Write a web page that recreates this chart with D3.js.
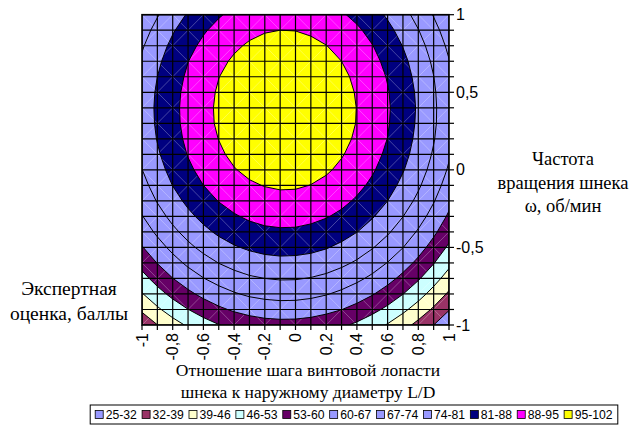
<!DOCTYPE html>
<html>
<head>
<meta charset="utf-8">
<script src="https://cdn.jsdelivr.net/npm/d3@7"></script>
<style>
  body { margin: 0; background: #fff; }
  svg { display: block; }
</style>
</head>
<body>
<svg id="chart" width="633" height="430"></svg>
<script>
// Grid of factor levels (coded units)
const lengthRatio = [-1, -0.9, -0.8, -0.7, -0.6, -0.5, -0.4, -0.3, -0.2, -0.1, 0,
                     0.1, 0.2, 0.3, 0.4, 0.5, 0.6, 0.7, 0.8, 0.9, 1];
const rotationFreq = [1, 0.9, 0.8, 0.7, 0.6, 0.5, 0.4, 0.3, 0.2, 0.1, 0,
                      -0.1, -0.2, -0.3, -0.4, -0.5, -0.6, -0.7, -0.8, -0.9, -1];

// Expert score, one row per rotationFreq level, one column per lengthRatio level
const score = [
  [68.7, 73.5, 77.8, 81.6, 84.8, 87.4, 89.5, 91.0, 92.0, 92.5, 92.4, 91.7, 90.5, 88.7, 86.4, 83.6, 80.1, 76.2, 71.7, 66.6, 61.0],
  [71.2, 76.1, 80.4, 84.1, 87.3, 89.9, 92.0, 93.6, 94.6, 95.0, 94.9, 94.2, 93.0, 91.3, 89.0, 86.1, 82.7, 78.7, 74.2, 69.2, 63.5],
  [73.3, 78.2, 82.5, 86.2, 89.4, 92.0, 94.1, 95.7, 96.7, 97.1, 97.0, 96.3, 95.1, 93.4, 91.1, 88.2, 84.8, 80.8, 76.3, 71.3, 65.6],
  [75.0, 79.8, 84.1, 87.9, 91.0, 93.7, 95.8, 97.3, 98.3, 98.7, 98.6, 98.0, 96.8, 95.0, 92.7, 89.8, 86.4, 82.5, 78.0, 72.9, 67.3],
  [76.2, 81.0, 85.3, 89.0, 92.2, 94.9, 97.0, 98.5, 99.5, 99.9, 99.8, 99.2, 98.0, 96.2, 93.9, 91.0, 87.6, 83.7, 79.1, 74.1, 68.5],
  [76.9, 81.8, 86.0, 89.8, 93.0, 95.6, 97.7, 99.2, 100.2, 100.7, 100.6, 99.9, 98.7, 96.9, 94.6, 91.8, 88.4, 84.4, 79.9, 74.8, 69.2],
  [77.2, 82.1, 86.3, 90.1, 93.3, 95.9, 98.0, 99.5, 100.5, 101.0, 100.9, 100.2, 99.0, 97.2, 94.9, 92.1, 88.7, 84.7, 80.2, 75.1, 69.5],
  [77.1, 81.9, 86.2, 89.9, 93.1, 95.8, 97.8, 99.4, 100.4, 100.8, 100.7, 100.0, 98.8, 97.1, 94.8, 91.9, 88.5, 84.5, 80.0, 75.0, 69.4],
  [76.4, 81.3, 85.6, 89.3, 92.5, 95.1, 97.2, 98.8, 99.8, 100.2, 100.1, 99.4, 98.2, 96.5, 94.2, 91.3, 87.9, 83.9, 79.4, 74.4, 68.7],
  [75.4, 80.2, 84.5, 88.3, 91.4, 94.1, 96.2, 97.7, 98.7, 99.1, 99.0, 98.4, 97.2, 95.4, 93.1, 90.2, 86.8, 82.9, 78.4, 73.3, 67.7],
  [73.9, 78.7, 83.0, 86.8, 89.9, 92.6, 94.7, 96.2, 97.2, 97.6, 97.5, 96.9, 95.7, 93.9, 91.6, 88.7, 85.3, 81.4, 76.9, 71.8, 66.2],
  [71.9, 76.8, 81.1, 84.8, 88.0, 90.6, 92.7, 94.3, 95.2, 95.7, 95.6, 94.9, 93.7, 91.9, 89.6, 86.8, 83.4, 79.4, 74.9, 69.8, 64.2],
  [69.5, 74.4, 78.6, 82.4, 85.6, 88.2, 90.3, 91.8, 92.8, 93.3, 93.2, 92.5, 91.3, 89.5, 87.2, 84.4, 81.0, 77.0, 72.5, 67.4, 61.8],
  [66.7, 71.5, 75.8, 79.5, 82.7, 85.4, 87.4, 89.0, 90.0, 90.4, 90.3, 89.6, 88.4, 86.7, 84.4, 81.5, 78.1, 74.1, 69.6, 64.6, 59.0],
  [63.4, 68.2, 72.5, 76.2, 79.4, 82.1, 84.1, 85.7, 86.7, 87.1, 87.0, 86.3, 85.1, 83.4, 81.1, 78.2, 74.8, 70.8, 66.3, 61.3, 55.7],
  [59.6, 64.4, 68.7, 72.5, 75.7, 78.3, 80.4, 81.9, 82.9, 83.4, 83.2, 82.6, 81.4, 79.6, 77.3, 74.4, 71.0, 67.1, 62.6, 57.5, 51.9],
  [55.4, 60.2, 64.5, 68.3, 71.4, 74.1, 76.2, 77.7, 78.7, 79.1, 79.0, 78.4, 77.2, 75.4, 73.1, 70.2, 66.8, 62.9, 58.4, 53.3, 47.7],
  [50.7, 55.6, 59.9, 63.6, 66.8, 69.4, 71.5, 73.1, 74.0, 74.5, 74.4, 73.7, 72.5, 70.7, 68.4, 65.6, 62.2, 58.2, 53.7, 48.6, 43.0],
  [45.6, 50.5, 54.8, 58.5, 61.7, 64.3, 66.4, 68.0, 68.9, 69.4, 69.3, 68.6, 67.4, 65.6, 63.3, 60.5, 57.1, 53.1, 48.6, 43.5, 37.9],
  [40.1, 44.9, 49.2, 52.9, 56.1, 58.8, 60.9, 62.4, 63.4, 63.8, 63.7, 63.1, 61.8, 60.1, 57.8, 54.9, 51.5, 47.5, 43.0, 38.0, 32.4],
  [34.1, 38.9, 43.2, 46.9, 50.1, 52.8, 54.8, 56.4, 57.4, 57.8, 57.7, 57.0, 55.8, 54.1, 51.8, 48.9, 45.5, 41.5, 37.0, 32.0, 26.4]
];

// Score bands
const bandBreaks = [25, 32, 39, 46, 53, 60, 67, 74, 81, 88, 95, 102];
const bandLabels = ["25-32", "32-39", "39-46", "46-53", "53-60", "60-67",
                    "67-74", "74-81", "81-88", "88-95", "95-102"];
const bandColors = ["#9999FF", "#993366", "#FFFFCC", "#CCFFFF", "#660066", "#9999FF",
                    "#9999FF", "#9999FF", "#000080", "#FF00FF", "#FFFF00"];

// Axis labels
const xTickValues = [-1, -0.8, -0.6, -0.4, -0.2, 0, 0.2, 0.4, 0.6, 0.8, 1];
const xTickLabels = ["-1", "-0,8", "-0,6", "-0,4", "-0,2", "0", "0,2", "0,4", "0,6", "0,8", "1"];
const yTickValues = [1, 0.5, 0, -0.5, -1];
const yTickLabels = ["1", "0,5", "0", "-0,5", "-1"];

const xTitle = ["Отношение шага винтовой лопасти", "шнека к наружному диаметру L/D"];
const yTitle = ["Частота", "вращения шнека", "ω, об/мин"];
const zTitle = ["Экспертная", "оценка, баллы"];

// ---- layout ----
const plot = { left: 142, right: 449, top: 14.7, bottom: 325 };
const svg = d3.select("#chart");

const x = d3.scaleLinear().domain([-1, 1]).range([plot.left, plot.right]);
const y = d3.scaleLinear().domain([-1, 1]).range([plot.bottom, plot.top]);

const nx = lengthRatio.length, ny = rotationFreq.length;
// grid index -> factor value (d3.contours puts sample i at i + 0.5)
const colVal = d3.scaleLinear().domain([0, nx - 1]).range([lengthRatio[0], lengthRatio[nx - 1]]);
const rowVal = d3.scaleLinear().domain([0, ny - 1]).range([rotationFreq[0], rotationFreq[ny - 1]]);

const proj = d3.geoTransform({
  point(px, py) { this.stream.point(x(colVal(px - 0.5)), y(rowVal(py - 0.5))); }
});
const path = d3.geoPath(proj);

const contours = d3.contours()
  .size([nx, ny])
  .thresholds(bandBreaks.slice(1, -1))(score.flat());

svg.append("defs").append("clipPath").attr("id", "plotClip")
  .append("rect")
  .attr("x", plot.left).attr("y", plot.top)
  .attr("width", plot.right - plot.left).attr("height", plot.bottom - plot.top);

const g = svg.append("g").attr("clip-path", "url(#plotClip)");

// lowest band as background
g.append("rect")
  .attr("x", plot.left).attr("y", plot.top)
  .attr("width", plot.right - plot.left).attr("height", plot.bottom - plot.top)
  .attr("fill", bandColors[0]);

// filled bands
g.selectAll("path.band").data(contours).join("path")
  .attr("class", "band")
  .attr("d", path)
  .attr("fill", (d, i) => bandColors[i + 1])
  .attr("stroke", "none");

// triangle seams inside each cell
const cells = [];
for (let r = 0; r < ny - 1; r++) for (let c = 0; c < nx - 1; c++) cells.push([r, c]);
g.selectAll("line.seam").data(cells).join("line")
  .attr("class", "seam")
  .attr("x1", d => x(lengthRatio[d[1]]))
  .attr("x2", d => x(lengthRatio[d[1] + 1]))
  .attr("y1", d => (d[0] + d[1]) % 2 === 0 ? y(rotationFreq[d[0]]) : y(rotationFreq[d[0] + 1]))
  .attr("y2", d => (d[0] + d[1]) % 2 === 0 ? y(rotationFreq[d[0] + 1]) : y(rotationFreq[d[0]]))
  .attr("stroke", "#ffffff")
  .attr("stroke-opacity", 0.35)
  .attr("stroke-width", 0.8);

// contour lines
g.selectAll("path.iso").data(contours).join("path")
  .attr("class", "iso")
  .attr("d", path)
  .attr("fill", "none")
  .attr("stroke", "#000")
  .attr("stroke-width", 1);

// grid
g.selectAll("line.gx").data(lengthRatio).join("line")
  .attr("class", "gx")
  .attr("x1", d => x(d)).attr("x2", d => x(d))
  .attr("y1", plot.top).attr("y2", plot.bottom)
  .attr("stroke", "#000").attr("stroke-width", 1.2);
g.selectAll("line.gy").data(rotationFreq).join("line")
  .attr("class", "gy")
  .attr("y1", d => y(d)).attr("y2", d => y(d))
  .attr("x1", plot.left).attr("x2", plot.right)
  .attr("stroke", "#000").attr("stroke-width", 1.2);

// plot border
svg.append("rect")
  .attr("x", plot.left).attr("y", plot.top)
  .attr("width", plot.right - plot.left).attr("height", plot.bottom - plot.top)
  .attr("fill", "none").attr("stroke", "#000").attr("stroke-width", 1.6);

// ticks
svg.append("g").selectAll("line").data(lengthRatio).join("line")
  .attr("x1", d => x(d)).attr("x2", d => x(d))
  .attr("y1", plot.bottom).attr("y2", plot.bottom + 5)
  .attr("stroke", "#000").attr("stroke-width", 1.2);
svg.append("g").selectAll("line").data(rotationFreq).join("line")
  .attr("y1", d => y(d)).attr("y2", d => y(d))
  .attr("x1", plot.right).attr("x2", plot.right + 5)
  .attr("stroke", "#000").attr("stroke-width", 1.2);

// tick labels
const tickFont = "'Liberation Sans', Arial, sans-serif";
svg.append("g").selectAll("text").data(xTickValues).join("text")
  .attr("transform", d => `translate(${x(d)},${plot.bottom + 8}) rotate(-90)`)
  .attr("text-anchor", "end")
  .attr("dominant-baseline", "central")
  .attr("font-family", tickFont).attr("font-size", 16)
  .text((d, i) => xTickLabels[i]);
svg.append("g").selectAll("text").data(yTickValues).join("text")
  .attr("x", plot.right + 7)
  .attr("y", d => y(d))
  .attr("dominant-baseline", "central")
  .attr("font-family", tickFont).attr("font-size", 16)
  .text((d, i) => yTickLabels[i]);

// axis titles
const titleFont = "'Liberation Serif', 'Times New Roman', serif";
function titleBlock(lines, cx, firstBaseline, step, size) {
  svg.append("g").selectAll("text").data(lines).join("text")
    .attr("x", cx)
    .attr("y", (d, i) => firstBaseline + i * step)
    .attr("text-anchor", "middle")
    .attr("font-family", titleFont).attr("font-size", size)
    .text(d => d);
}
titleBlock(xTitle, 308, 376, 21.5, 17.5);
titleBlock(yTitle, 563, 165, 23.5, 18.5);
titleBlock(zTitle, 69, 295, 24.5, 19.5);

// legend
const legend = svg.append("g");
const legendFont = 12.2;
const legendGap = 5;
let lx = 0;
const items = legend.selectAll("g").data(bandLabels).join("g");
items.append("rect")
  .attr("width", 8).attr("height", 8)
  .attr("y", -8.5)
  .attr("fill", (d, i) => bandColors[i])
  .attr("stroke", "#000").attr("stroke-width", 0.8);
items.append("text")
  .attr("x", 10.5)
  .attr("font-family", tickFont).attr("font-size", legendFont)
  .text(d => d);
items.each(function () {
  const w = this.getBBox().width;
  d3.select(this).attr("transform", `translate(${lx},0)`);
  lx += w + legendGap;
});
const legendWidth = lx - legendGap;
const legendLeft = 354 - legendWidth / 2;
legend.attr("transform", `translate(${legendLeft},419)`);
svg.append("rect")
  .attr("x", legendLeft - 5).attr("y", 405)
  .attr("width", legendWidth + 10).attr("height", 19)
  .attr("fill", "none").attr("stroke", "#000").attr("stroke-width", 1);
</script>
</body>
</html>
